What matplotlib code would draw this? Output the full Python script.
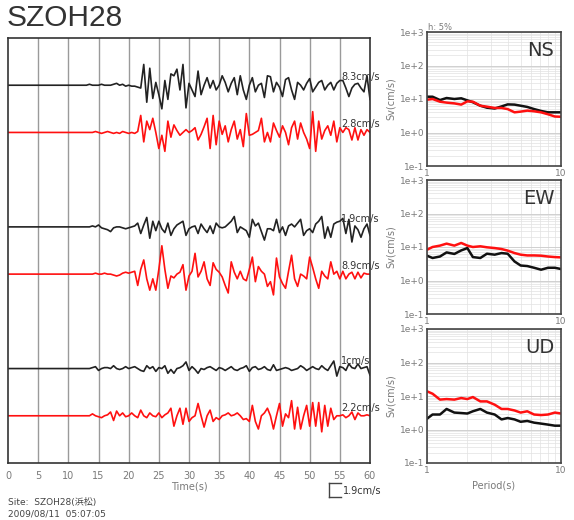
import numpy as np
import matplotlib
matplotlib.use("Agg")
import matplotlib.pyplot as plt
from matplotlib.lines import Line2D
from matplotlib.ticker import LogLocator, NullFormatter

plt.rcParams["font.family"] = ["DejaVu Sans", "Noto Sans CJK JP"]

INK = "#222222"
GREY = "#7a7a7a"
RED = "#ff1010"
VGRID = "#9a9a9a"

# ---- waveforms: relative amplitude, sampled every 0.5 s from 0 to 60 s -------
DT = 0.5
ns_blk = [0, 0, 0, 0, 0, 0, 0, 0, 0, 0,
          0, 0, 0, 0, 0, 0, 0, 0, 0, 0,
          0, 0, 0, 0, 0, 0, 0, 1, 0, 0,
          0, 1, 0, 0, 0, 1, 2, 0, 1, -1,
          0, -1, -1, -2, -3, 22, -18, 18, -14, 3,
          -10, -25, 5, -15, 12, 10, 17, -5, 22, -24,
          2, -5, -12, 15, -10, 0, 8, -3, 5, -5,
          0, 10, 3, -7, 2, 8, -10, 10, -5, -15,
          0, 8, -7, 0, 2, -13, 10, 9, -7, 3,
          -2, -12, 6, 8, -5, -15, 3, 0, -5, 2,
          7, -7, -2, 3, 5, -5, 0, 3, -5, 2,
          5, 5, -3, -12, -3, 1, 2, -3, -7, 10,
          -15]
ns_red = [0, 0, 0, 0, 0, 0, 0, 0, 0, 0,
          0, 0, 0, 0, 0, 0, 0, 0, 0, 0,
          0, 0, 0, 0, 0, 0, 0, 0, 0, 1,
          0, -1, 0, 1, 0, -1, 0, -1, 1, 0,
          -1, 0, -1, 1, 18, -10, 12, 3, 15, 0,
          -17, -3, -20, 12, -5, 8, 2, -3, 0, 3,
          0, 2, 5, -8, -2, 6, 15, -17, 18, -13,
          12, -2, 7, -10, 3, 12, -7, 3, -15, 20,
          -3, -2, 0, 2, 15, -10, 0, -10, 10, 2,
          -5, 7, 0, -13, 5, 12, -7, 10, 0, -7,
          -17, 22, -20, 12, -7, 2, 7, -3, 12, -10,
          5, 0, 5, 3, -8, 5, -8, 3, -3, 3,
          0]
ew_blk = [0, 0, 0, 0, 0, 0, 0, 0, 0, 0,
          0, 0, 0, 0, 0, 0, 0, 0, 0, 0,
          0, 0, 0, 0, 0, 0, 0, 0, 1, 0,
          2, -1, -2, -3, -5, -1, 0, 0, -1, -2,
          -1, 0, 1, 4, -7, 2, 10, -12, 6, -4,
          6, -2, -6, 4, -9, -2, 2, 4, 6, -9,
          -2, 0, 1, -7, 3, -2, -6, 1, -7, 4,
          0, -1, 0, 3, 6, 11, -6, 0, -2, -4,
          -11, 8, 1, 4, -5, -14, -2, -2, -4, 8,
          -6, 0, -9, 1, 3, 0, 4, 8, -9, -4,
          -2, -6, 3, 6, 11, -12, 0, -11, 3, 5,
          6, 9, -7, 8, -16, 1, -3, -11, -2, 3,
          -9]
ew_red = [0, 0, 0, 0, 0, 0, 0, 0, 0, 0,
          0, 0, 0, 0, 0, 0, 0, 0, 0, 0,
          0, 0, 0, 0, 0, 0, 0, 0, 0, 1,
          0, 0, 1, 0, 0, -1, -2, -1, 1, 2,
          1, 2, 3, -12, 5, 15, -5, -17, -5, -17,
          5, 30, 5, -15, -2, -4, 0, 2, 10, -17,
          -2, 3, 22, -3, 3, 13, -5, -12, 12, 5,
          2, -3, -12, -20, 13, 2, -5, 3, -5, -7,
          5, 18, -8, 8, 3, 0, -13, -8, -22, 17,
          -3, -10, -15, 3, 20, -5, -13, 0, -2, -5,
          18, 7, -5, -15, 3, -2, -5, 13, 0, 3,
          -5, 3, -5, 0, 2, -5, 2, -4, 1, 0,
          0]
ud_blk = [0, 0, 0, 0, 0, 0, 0, 0, 0, 0,
          0, 0, 0, 0, 0, 0, 0, 0, 0, 0,
          0, 0, 0, 0, 0, 0, 0, 0, 1, 2,
          -2, 0, 1, 1, 0, 3, 0, -1, 0, 2,
          0, 1, 2, 0, -2, -3, 3, 0, 2, -3,
          1, 0, 3, -5, -1, -5, 0, 1, 3, 7,
          -2, 2, -1, -5, 0, -1, 1, 2, 0, -2,
          1, 0, -2, 0, 2, -1, -2, 0, 1, 3,
          -3, 1, 2, -1, 0, 2, -1, -2, 4, -2,
          -1, 0, 1, 0, -2, -1, 0, 3, 1, -2,
          0, 2, 0, -1, 3, 0, -2, 3, 8, -8,
          2, 1, -2, 5, 1, 0, 5, 0, 1, 2,
          -7]
ud_red = [0, 0, 0, 0, 0, 0, 0, 0, 0, 0,
          0, 0, 0, 0, 0, 0, 0, 0, 0, 0,
          0, 0, 0, 0, 0, 0, 0, 0, 2, 0,
          -1, -2, 0, 1, 4, -5, 5, 0, 3, -1,
          0, 3, 0, -2, 6, 0, -2, 3, 0, -1,
          3, -2, 1, 3, 8, -11, 0, 8, -9, 8,
          -6, -2, 0, 13, 0, -12, 0, 6, -6, -2,
          -4, 0, 1, 3, 0, 1, 3, 0, -4, -3,
          -6, 11, -6, -14, 0, 3, 8, 0, -14, 0,
          13, -11, 2, -2, 16, -14, 9, -14, 0, 11,
          -11, 14, -11, 14, -17, 11, -11, 8, -4, 0,
          0, 1, -2, 0, 4, -4, 3, 0, 0, 1,
          0]

traces = [ns_blk, ns_red, ew_blk, ew_red, ud_blk, ud_red]
trace_colors = [INK, RED, INK, RED, INK, RED]
trace_slots = [8, 7, 5, 4, 2, 1]
peak_labels = ["8.3cm/s", "2.8cm/s", "1.9cm/s", "8.9cm/s", "1cm/s", "2.2cm/s"]

# ---- velocity response spectra (h = 5%) ------------------------------------
periods = [1.0, 1.1, 1.25, 1.4, 1.6, 1.8, 2.0, 2.2, 2.5, 2.8, 3.2,
           3.6, 4.0, 4.5, 5.0, 5.6, 6.3, 7.1, 8.0, 9.0, 10.0]
sv_ns_blk = [11.7, 11.7, 9.3, 10.7, 10.0, 10.5, 9.1, 8.0, 6.3, 5.5, 5.2,
             6.0, 6.9, 6.8, 6.3, 5.8, 5.0, 4.4, 4.0, 4.0, 4.0]
sv_ns_red = [9.5, 10.0, 8.3, 7.8, 7.4, 6.8, 8.5, 8.3, 6.3, 5.9, 5.4,
             5.4, 5.0, 4.0, 4.2, 4.5, 4.3, 4.0, 3.5, 3.0, 2.95]
sv_ew_blk = [5.5, 4.7, 5.2, 6.9, 6.2, 7.9, 9.3, 5.0, 4.7, 6.3, 5.9,
             6.6, 6.3, 3.7, 2.8, 2.7, 2.4, 2.1, 2.4, 2.4, 2.2]
sv_ew_red = [8.3, 10.0, 11.0, 12.6, 11.0, 13.2, 11.0, 10.0, 10.5, 9.8, 9.3,
             8.7, 7.8, 6.6, 5.9, 5.6, 5.6, 5.5, 5.2, 5.0, 4.9]
sv_ud_blk = [2.1, 2.8, 2.8, 4.1, 3.2, 3.1, 3.0, 3.5, 4.1, 3.2, 2.8,
             2.0, 2.2, 2.0, 1.7, 1.8, 1.6, 1.5, 1.4, 1.3, 1.3]
sv_ud_red = [13.8, 11.7, 7.8, 8.1, 7.8, 8.7, 8.1, 9.3, 6.9, 6.9, 5.5,
             4.1, 4.1, 3.7, 3.2, 3.5, 2.8, 2.7, 2.8, 3.2, 3.0]

components = ["NS", "EW", "UD"]
spectra = [(sv_ns_blk, sv_ns_red), (sv_ew_blk, sv_ew_red), (sv_ud_blk, sv_ud_red)]

W, H, DPI = 574, 520, 100
GAIN = 50.0

fig = plt.figure(figsize=(W / DPI, H / DPI), dpi=DPI)
fig.patch.set_facecolor("white")

fig.text(7 / W, 1 - 4 / H, "SZOH28", ha="left", va="top", fontsize=21.5,
         color="#333333", family="Liberation Sans")

# ---- left: waveforms --------------------------------------------------------
ax = fig.add_axes([8 / W, 1 - 463 / H, 362 / W, 425 / H])
ax.set_xlim(0, 60)
ax.set_ylim(0, 9)
for xv in range(5, 60, 5):
    ax.axvline(xv, color=VGRID, lw=1.0, zorder=0)
t = np.arange(len(ns_blk)) * DT
for vals, col, slot, lab in zip(traces, trace_colors, trace_slots, peak_labels):
    ax.plot(t, slot + np.asarray(vals) / GAIN, color=col, lw=1.2,
            solid_joinstyle="round")
    ax.text(55.2, slot + 0.17, lab, ha="left", va="center", fontsize=7,
            color="#333333", clip_on=False)
ax.set_xticks(range(0, 61, 5))
ax.set_yticks([])
ax.tick_params(axis="x", length=0, labelsize=7, labelcolor=GREY, pad=6)
for s in ax.spines.values():
    s.set_color("#333333")
    s.set_linewidth(1.2)
ax.set_xlabel("Time(s)", fontsize=7, color=GREY, labelpad=0)

# scale bar
bx0, bx1, by0, by1 = 329, 341, 483, 497
for xs, ys in [([bx0, bx1], [by0, by0]), ([bx0, bx0], [by0, by1]), ([bx0, bx1], [by1, by1])]:
    fig.add_artist(Line2D([x / W for x in xs], [1 - y / H for y in ys],
                          color="#444444", lw=1.0))
fig.text(343 / W, 1 - 491 / H, "1.9cm/s", ha="left", va="center",
         fontsize=7, color="#333333")

fig.text(8 / W, 1 - 502 / H, "Site:  SZOH28(浜松)", ha="left", va="center",
         fontsize=6.5, color="#444444")
fig.text(8 / W, 1 - 514 / H, "2009/08/11  05:07:05", ha="left", va="center",
         fontsize=6.5, color="#444444")

# ---- right: response spectra -----------------------------------------------
tops = [32, 180, 329]
for i, (name, (blk, red), top) in enumerate(zip(components, spectra, tops)):
    sx = fig.add_axes([427 / W, 1 - (top + 134) / H, 134 / W, 134 / H])
    sx.set_xscale("log")
    sx.set_yscale("log")
    sx.set_xlim(1, 10)
    sx.set_ylim(0.1, 1000)
    sx.xaxis.set_minor_locator(LogLocator(base=10, subs=np.arange(2, 10)))
    sx.yaxis.set_minor_locator(LogLocator(base=10, subs=np.arange(2, 10), numticks=20))
    sx.xaxis.set_minor_formatter(NullFormatter())
    sx.yaxis.set_minor_formatter(NullFormatter())
    sx.set_xticks([1, 10])
    sx.set_xticklabels(["1", "10"])
    sx.set_yticks([0.1, 1, 10, 100, 1000])
    sx.set_yticklabels(["1e-1", "1e+0", "1e+1", "1e+2", "1e+3"])
    sx.grid(which="major", color="#d0d0d0", lw=0.7)
    sx.grid(which="minor", color="#e2e2e2", lw=0.5)
    sx.tick_params(which="both", length=0, labelsize=6.5, labelcolor=GREY, pad=2)
    sx.plot(periods, blk, color="#111111", lw=1.8)
    sx.plot(periods, red, color=RED, lw=1.8)
    for s in sx.spines.values():
        s.set_color("#444444")
        s.set_linewidth(1.2)
    sx.text(0.95, 0.93, name, transform=sx.transAxes, ha="right", va="top",
            fontsize=14, color="#333333")
    sx.set_ylabel("Sv(cm/s)", fontsize=7, color=GREY, labelpad=3)
    if i == 2:
        sx.set_xlabel("Period(s)", fontsize=7, color=GREY, labelpad=4)

fig.text(428 / W, 1 - 27 / H, "h: 5%", ha="left", va="center", fontsize=6,
         color=GREY)

fig.savefig("out.png", dpi=DPI, facecolor="white")
